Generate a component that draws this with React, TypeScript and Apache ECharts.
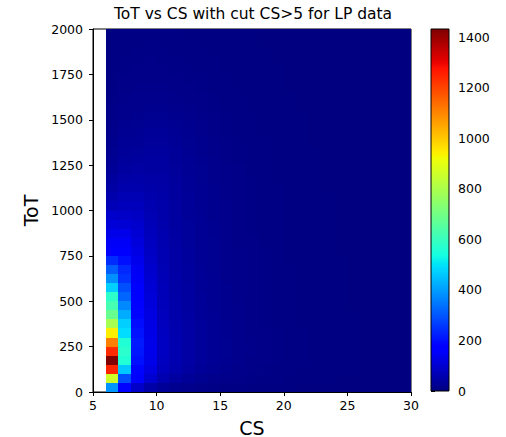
import React, { useEffect, useRef } from "react";
import * as echarts from "echarts";

// ---- data ----
const title = "ToT vs CS with cut CS>5 for LP data";
const xLabel = "CS";
const yLabel = "ToT";
const xBinWidth = 1;
const yBinWidth = 50;
const csStarts = [6, 7, 8, 9, 10, 11, 12, 13, 14, 15, 16, 17, 18, 19, 20, 21, 22, 23, 24, 25, 26, 27, 28, 29];
// counts per CS column, ToT bins of 50 starting at 0 (40 bins each)
const c6 = [390, 860, 1250, 1432, 1240, 1110, 940, 790, 680, 620, 580, 470, 380, 310, 240, 175, 150, 130, 110, 95, 70, 55, 45, 38, 32, 27, 22, 19, 16, 14, 12, 10, 9, 8, 7, 6, 5, 5, 4, 4];
const c7 = [180, 290, 460, 560, 575, 560, 490, 470, 420, 370, 320, 290, 250, 235, 200, 170, 150, 130, 105, 90, 75, 65, 55, 48, 42, 36, 32, 28, 24, 20, 17, 15, 13, 11, 10, 9, 8, 7, 6, 5];
const c8 = [90, 160, 185, 200, 210, 215, 205, 195, 185, 180, 170, 160, 150, 145, 135, 125, 115, 105, 95, 85, 75, 65, 56, 50, 44, 38, 33, 29, 25, 22, 19, 17, 15, 13, 11, 10, 9, 8, 7, 6];
const c9 = [50, 100, 120, 130, 132, 130, 128, 125, 120, 115, 110, 105, 100, 95, 90, 85, 80, 75, 70, 65, 60, 55, 50, 46, 42, 40, 38, 34, 30, 26, 22, 19, 16, 14, 12, 11, 10, 9, 8, 7];
const c10 = [30, 60, 75, 80, 82, 82, 80, 78, 76, 74, 72, 70, 68, 66, 64, 62, 60, 58, 56, 54, 52, 50, 48, 45, 42, 40, 38, 34, 30, 26, 22, 19, 16, 14, 12, 10, 9, 8, 7, 6];
const c11 = [20, 40, 55, 60, 60, 60, 58, 56, 54, 52, 50, 49, 48, 47, 46, 45, 44, 43, 42, 41, 40, 39, 38, 36, 34, 32, 30, 28, 25, 22, 19, 16, 14, 12, 10, 9, 8, 7, 6, 5];
const c12 = [15, 30, 40, 45, 46, 46, 45, 44, 43, 42, 41, 40, 39, 38, 37, 36, 35, 34, 33, 32, 31, 30, 29, 28, 27, 26, 24, 22, 20, 18, 16, 14, 12, 10, 9, 8, 7, 6, 5, 4];
const c13 = [10, 22, 30, 34, 35, 35, 34, 33, 32, 31, 30, 29, 28, 28, 27, 27, 26, 26, 25, 25, 24, 24, 23, 22, 21, 20, 19, 18, 16, 15, 13, 12, 10, 9, 8, 7, 6, 5, 4, 4];
const c14 = [8, 17, 23, 26, 27, 27, 26, 25, 25, 24, 24, 23, 23, 22, 22, 21, 21, 20, 20, 19, 19, 18, 18, 17, 16, 15, 14, 13, 12, 11, 10, 9, 8, 7, 6, 5, 5, 4, 3, 3];
const c15 = [6, 13, 18, 20, 21, 21, 20, 20, 19, 19, 18, 18, 17, 17, 17, 16, 16, 16, 15, 15, 15, 14, 14, 13, 13, 12, 11, 10, 9, 8, 8, 7, 6, 5, 5, 4, 4, 3, 3, 2];
const c16 = [5, 10, 14, 16, 16, 16, 16, 15, 15, 15, 14, 14, 14, 13, 13, 13, 12, 12, 12, 12, 11, 11, 11, 10, 10, 9, 9, 8, 7, 7, 6, 5, 5, 4, 4, 3, 3, 3, 2, 2];
const c17 = [4, 8, 11, 12, 13, 13, 12, 12, 12, 11, 11, 11, 11, 10, 10, 10, 10, 9, 9, 9, 9, 8, 8, 8, 7, 7, 7, 6, 6, 5, 5, 4, 4, 3, 3, 3, 2, 2, 2, 2];
const c18 = [3, 6, 8, 10, 10, 10, 10, 9, 9, 9, 9, 8, 8, 8, 8, 8, 7, 7, 7, 7, 7, 6, 6, 6, 6, 5, 5, 5, 4, 4, 4, 3, 3, 3, 2, 2, 2, 2, 1, 1];
const c19 = [2, 5, 7, 8, 8, 8, 8, 7, 7, 7, 7, 7, 6, 6, 6, 6, 6, 6, 5, 5, 5, 5, 5, 4, 4, 4, 4, 3, 3, 3, 3, 2, 2, 2, 2, 2, 1, 1, 1, 1];
const c20 = [2, 4, 5, 6, 6, 6, 6, 6, 5, 5, 5, 5, 5, 5, 4, 4, 4, 4, 4, 4, 4, 3, 3, 3, 3, 3, 3, 3, 2, 2, 2, 2, 2, 1, 1, 1, 1, 1, 1, 1];
const c21 = [1, 3, 4, 5, 5, 5, 5, 4, 4, 4, 4, 4, 4, 4, 3, 3, 3, 3, 3, 3, 3, 3, 3, 2, 2, 2, 2, 2, 2, 2, 2, 1, 1, 1, 1, 1, 1, 1, 1, 1];
const c22 = [1, 2, 3, 4, 4, 4, 4, 3, 3, 3, 3, 3, 3, 3, 3, 3, 2, 2, 2, 2, 2, 2, 2, 2, 2, 2, 2, 1, 1, 1, 1, 1, 1, 1, 1, 1, 1, 0, 0, 0];
const c23 = [1, 2, 2, 3, 3, 3, 3, 3, 3, 2, 2, 2, 2, 2, 2, 2, 2, 2, 2, 2, 2, 2, 1, 1, 1, 1, 1, 1, 1, 1, 1, 1, 1, 1, 1, 0, 0, 0, 0, 0];
const c24 = [1, 1, 2, 2, 2, 2, 2, 2, 2, 2, 2, 2, 2, 2, 2, 1, 1, 1, 1, 1, 1, 1, 1, 1, 1, 1, 1, 1, 1, 1, 1, 1, 0, 0, 0, 0, 0, 0, 0, 0];
const c25 = [0, 1, 2, 2, 2, 2, 2, 2, 2, 1, 1, 1, 1, 1, 1, 1, 1, 1, 1, 1, 1, 1, 1, 1, 1, 1, 1, 1, 1, 0, 0, 0, 0, 0, 0, 0, 0, 0, 0, 0];
const c26 = [0, 1, 1, 1, 1, 1, 1, 1, 1, 1, 1, 1, 1, 1, 1, 1, 1, 1, 1, 1, 1, 1, 1, 1, 1, 0, 0, 0, 0, 0, 0, 0, 0, 0, 0, 0, 0, 0, 0, 0];
const c27 = [0, 1, 1, 1, 1, 1, 1, 1, 1, 1, 1, 1, 1, 1, 1, 1, 1, 1, 1, 1, 0, 0, 0, 0, 0, 0, 0, 0, 0, 0, 0, 0, 0, 0, 0, 0, 0, 0, 0, 0];
const c28 = [0, 0, 1, 1, 1, 1, 1, 1, 1, 1, 1, 1, 1, 1, 1, 1, 0, 0, 0, 0, 0, 0, 0, 0, 0, 0, 0, 0, 0, 0, 0, 0, 0, 0, 0, 0, 0, 0, 0, 0];
const c29 = [0, 0, 1, 1, 1, 1, 1, 1, 1, 1, 1, 1, 0, 0, 0, 0, 0, 0, 0, 0, 0, 0, 0, 0, 0, 0, 0, 0, 0, 0, 0, 0, 0, 0, 0, 0, 0, 0, 0, 0];
const columns = [c6, c7, c8, c9, c10, c11, c12, c13, c14, c15, c16, c17, c18, c19, c20, c21, c22, c23, c24, c25, c26, c27, c28, c29];
const colorMax = 1432;
const colorTicks = [0, 200, 400, 600, 800, 1000, 1200, 1400];

// ---- jet colormap ----
function interp(pts: number[][], f: number) {
  for (let i = 1; i < pts.length; i++) {
    if (f <= pts[i][0]) {
      const [x0, y0] = pts[i - 1];
      const [x1, y1] = pts[i];
      return y0 + ((f - x0) / (x1 - x0)) * (y1 - y0);
    }
  }
  return pts[pts.length - 1][1];
}
function jet(f: number) {
  const r = interp([[0, 0], [0.35, 0], [0.66, 1], [0.89, 1], [1, 0.5]], f);
  const g = interp([[0, 0], [0.125, 0], [0.375, 1], [0.64, 1], [0.91, 0], [1, 0]], f);
  const b = interp([[0, 0.5], [0.11, 1], [0.34, 1], [0.65, 0], [1, 0]], f);
  const h = (v: number) => Math.round(v * 255).toString(16).padStart(2, "0");
  return "#" + h(r) + h(g) + h(b);
}
const N = 120;
const jetColors: string[] = [];
for (let i = 0; i <= N; i++) jetColors.push(jet(i / N));

export default function App() {
  const ref = useRef<HTMLDivElement>(null);
  useEffect(() => {
    document.body.style.margin = "0";
    if (!ref.current) return;
    const chart = echarts.init(ref.current, null, { renderer: "svg" });
    const data: number[][] = [];
    columns.forEach((col, ci) => {
      col.forEach((v, bi) => data.push([csStarts[ci], bi * yBinWidth, v]));
    });
    const font = "DejaVu Sans";
    const plain = (v: number) => String(v);
    const axisCommon = {
      axisLine: { show: true, onZero: false, lineStyle: { color: "#000", width: 1 } },
      axisTick: { show: true, inside: false, length: 4, lineStyle: { color: "#000", width: 1 } },
      splitLine: { show: false },
    };
    chart.setOption({
      animation: false,
      backgroundColor: "#fff",
      title: {
        text: title,
        left: "center",
        top: 6,
        padding: 0,
        textStyle: { fontFamily: font, fontSize: 15.5, fontWeight: "normal", color: "#000" },
      },
      grid: [
        { left: 93, top: 29, width: 318, height: 363, show: true, borderColor: "#000", borderWidth: 1, backgroundColor: "transparent", containLabel: false, outerBoundsMode: "none" },
        { left: 431, top: 29, width: 18, height: 362, show: false, containLabel: false, outerBoundsMode: "none" },
      ],
      xAxis: [
        {
          ...axisCommon,
          type: "value",
          gridIndex: 0,
          min: 5,
          max: 30,
          interval: 5,
          name: xLabel,
          nameLocation: "middle",
          nameGap: 26,
          nameTextStyle: { fontFamily: font, fontSize: 19, color: "#000" },
          axisLabel: { fontFamily: font, fontSize: 12.5, color: "#000", margin: 7, formatter: plain },
        },
        { type: "value", gridIndex: 1, min: 0, max: 1, show: false },
      ],
      yAxis: [
        {
          ...axisCommon,
          type: "value",
          gridIndex: 0,
          min: 0,
          max: 2000,
          interval: 250,
          name: yLabel,
          nameLocation: "middle",
          nameRotate: 90,
          nameGap: 50,
          nameTextStyle: { fontFamily: font, fontSize: 19, color: "#000" },
          axisLabel: { fontFamily: font, fontSize: 12.5, color: "#000", margin: 10, formatter: plain },
        },
        {
          type: "value",
          gridIndex: 1,
          position: "right",
          min: 0,
          max: colorMax,
          axisLine: { show: false },
          splitLine: { show: false },
          axisTick: { show: true, length: 4, customValues: colorTicks, lineStyle: { color: "#000", width: 1 } },
          axisLabel: { fontFamily: font, fontSize: 12.5, color: "#000", margin: 9, customValues: colorTicks, formatter: plain },
        },
      ],
      visualMap: {
        type: "continuous",
        show: false,
        min: 0,
        max: colorMax,
        dimension: 2,
        seriesIndex: 0,
        inRange: { color: jetColors },
      },
      graphic: [
        {
          type: "rect",
          shape: { x: 431, y: 29, width: 18, height: 362 },
          style: {
            fill: new echarts.graphic.LinearGradient(
              0, 1, 0, 0,
              jetColors.map((c, i) => ({ offset: i / N, color: c }))
            ),
            stroke: "#000",
            lineWidth: 1,
          },
          z: 10,
        },
      ],
      series: [
        {
          type: "custom",
          xAxisIndex: 0,
          yAxisIndex: 0,
          dimensions: ["cs", "tot", "count"],
          encode: { x: 0, y: 1 },
          data,
          z: 1,
          renderItem: (params: any, api: any) => {
            const x = api.value(0);
            const y = api.value(1);
            const p0 = api.coord([x, y]);
            const p1 = api.coord([x + xBinWidth, y + yBinWidth]);
            const x0 = Math.round(p0[0]);
            const x1 = Math.round(p1[0]);
            const yTop = Math.round(p1[1]);
            const yBot = Math.round(p0[1]);
            return {
              type: "rect",
              shape: { x: x0, y: yTop, width: x1 - x0, height: yBot - yTop },
              style: { fill: api.visual("color"), stroke: null },
            };
          },
        },
        { type: "line", xAxisIndex: 1, yAxisIndex: 1, data: [] },
      ],
    });
    return () => chart.dispose();
  }, []);
  return <div ref={ref} style={{ width: 506, height: 437 }} />;
}
